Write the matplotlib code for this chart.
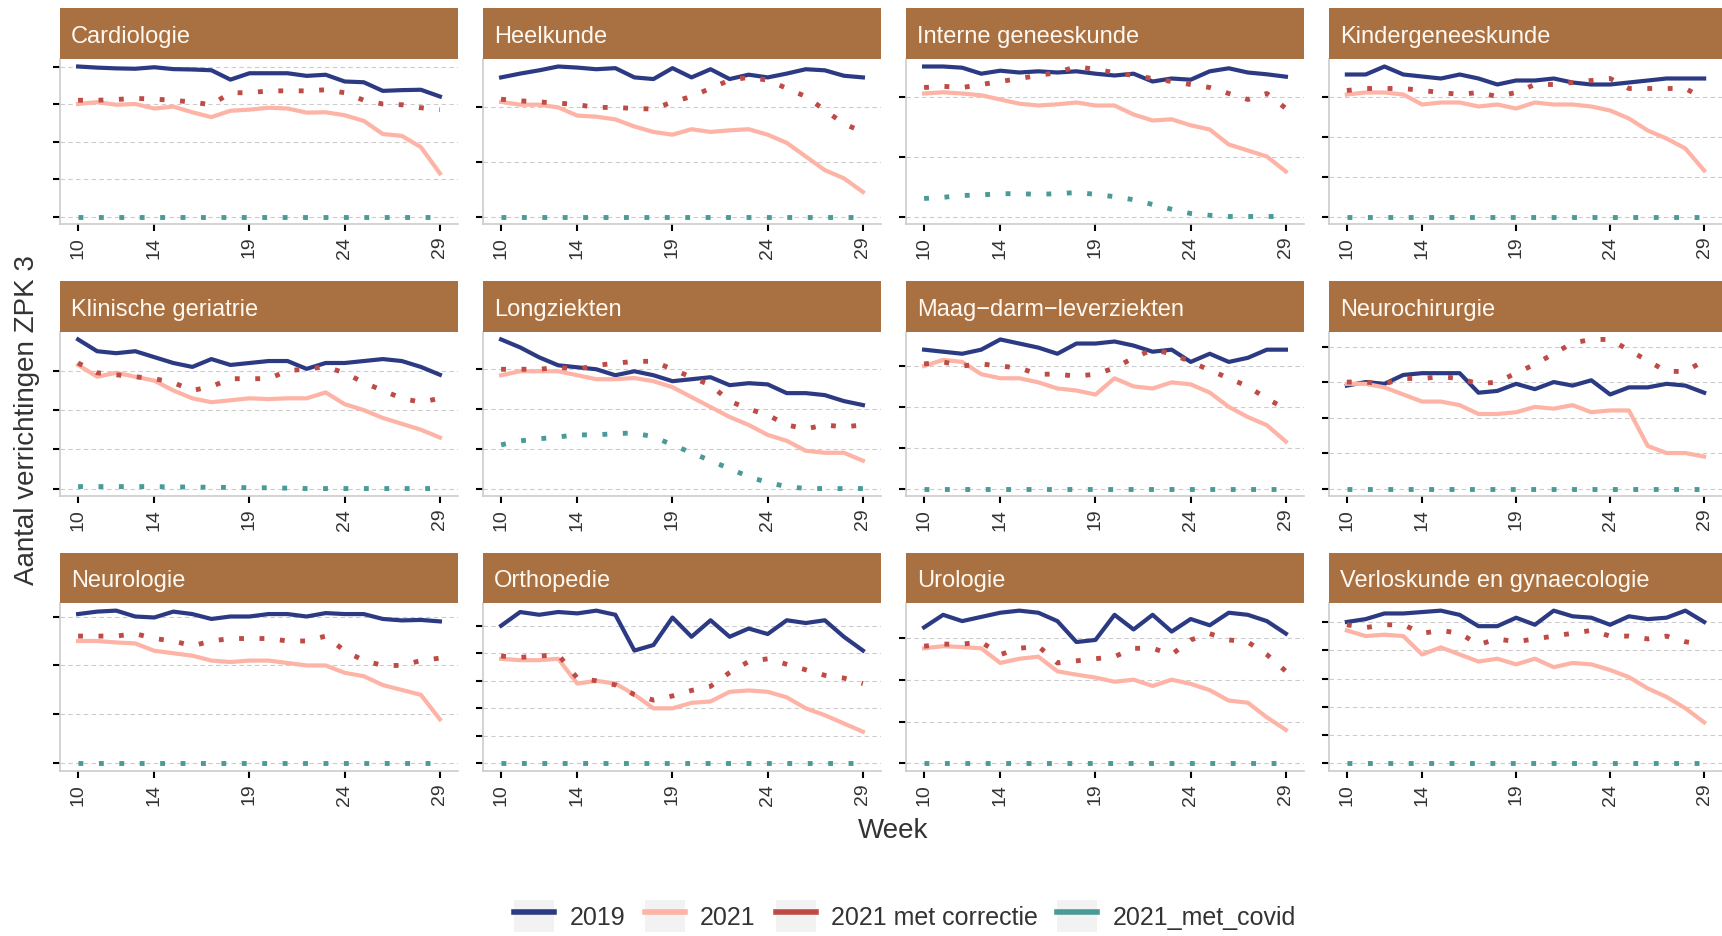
import matplotlib.pyplot as plt
import numpy as np
from matplotlib.lines import Line2D
from matplotlib.patches import Patch

plt.rcParams['font.family'] = ['Liberation Sans', 'DejaVu Sans']

weeks = np.arange(10, 30)
xticks = [10, 14, 19, 24, 29]

specialismen = ["Cardiologie", "Heelkunde", "Interne geneeskunde", "Kindergeneeskunde",
                "Klinische geriatrie", "Longziekten", "Maag\u2212darm\u2212leverziekten", "Neurochirurgie",
                "Neurologie", "Orthopedie", "Urologie", "Verloskunde en gynaecologie"]

v2019 = [
    [4.0, 3.97, 3.95, 3.94, 3.98, 3.93, 3.92, 3.9, 3.65, 3.82, 3.82, 3.82, 3.75, 3.78, 3.6, 3.58, 3.35, 3.37, 3.38, 3.2],
    [2.55, 2.62, 2.68, 2.75, 2.73, 2.7, 2.72, 2.55, 2.52, 2.72, 2.55, 2.7, 2.52, 2.6, 2.55, 2.62, 2.7, 2.68, 2.58, 2.55],
    [2.5, 2.5, 2.48, 2.38, 2.43, 2.4, 2.42, 2.4, 2.42, 2.38, 2.35, 2.38, 2.25, 2.3, 2.28, 2.42, 2.47, 2.4, 2.37, 2.33],
    [3.55, 3.55, 3.75, 3.55, 3.5, 3.45, 3.55, 3.45, 3.3, 3.4, 3.4, 3.45, 3.35, 3.3, 3.3, 3.35, 3.4, 3.45, 3.45, 3.45],
    [3.8, 3.5, 3.45, 3.5, 3.35, 3.2, 3.1, 3.3, 3.15, 3.2, 3.25, 3.25, 3.05, 3.2, 3.2, 3.25, 3.3, 3.25, 3.1, 2.9],
    [3.75, 3.55, 3.3, 3.1, 3.05, 3.0, 2.85, 2.95, 2.85, 2.7, 2.75, 2.8, 2.6, 2.65, 2.62, 2.4, 2.4, 2.35, 2.2, 2.1],
    [3.4, 3.35, 3.3, 3.4, 3.65, 3.55, 3.45, 3.3, 3.55, 3.55, 3.6, 3.5, 3.35, 3.4, 3.1, 3.3, 3.1, 3.2, 3.4, 3.4],
    [2.9, 3.0, 2.95, 3.2, 3.25, 3.25, 3.25, 2.7, 2.75, 2.95, 2.8, 3.0, 2.9, 3.05, 2.65, 2.85, 2.85, 2.95, 2.9, 2.7],
    [3.05, 3.1, 3.12, 3.0, 2.98, 3.1, 3.05, 2.95, 3.0, 3.0, 3.05, 3.05, 3.0, 3.07, 3.05, 3.05, 2.95, 2.92, 2.93, 2.9],
    [5.0, 5.5, 5.4, 5.5, 5.45, 5.55, 5.4, 4.1, 4.3, 5.3, 4.6, 5.2, 4.6, 4.9, 4.7, 5.2, 5.1, 5.2, 4.6, 4.1],
    [3.25, 3.55, 3.4, 3.5, 3.6, 3.65, 3.6, 3.4, 2.9, 2.95, 3.55, 3.2, 3.55, 3.15, 3.45, 3.3, 3.6, 3.55, 3.4, 3.1],
    [5.0, 5.1, 5.3, 5.3, 5.35, 5.4, 5.25, 4.85, 4.85, 5.15, 4.9, 5.4, 5.2, 5.15, 4.9, 5.2, 5.1, 5.15, 5.4, 5.0],
]
v2021 = [
    [3.0, 3.05, 2.98, 3.0, 2.88, 2.93, 2.78, 2.65, 2.82, 2.85, 2.9, 2.88, 2.77, 2.78, 2.7, 2.55, 2.2, 2.15, 1.85, 1.15],
    [2.1, 2.05, 2.05, 2.0, 1.85, 1.83, 1.78, 1.65, 1.55, 1.5, 1.6, 1.55, 1.58, 1.6, 1.5, 1.35, 1.1, 0.85, 0.7, 0.45],
    [2.05, 2.07, 2.05, 2.02, 1.95, 1.88, 1.85, 1.87, 1.9, 1.85, 1.85, 1.7, 1.6, 1.62, 1.52, 1.45, 1.2, 1.1, 1.0, 0.75],
    [3.05, 3.1, 3.1, 3.05, 2.8, 2.85, 2.85, 2.75, 2.8, 2.7, 2.85, 2.8, 2.8, 2.75, 2.65, 2.45, 2.15, 1.95, 1.7, 1.15],
    [3.15, 2.85, 2.95, 2.85, 2.75, 2.5, 2.3, 2.2, 2.25, 2.3, 2.28, 2.3, 2.3, 2.45, 2.15, 2.0, 1.8, 1.65, 1.5, 1.3],
    [2.85, 2.95, 2.95, 2.95, 2.85, 2.75, 2.75, 2.78, 2.7, 2.55, 2.3, 2.05, 1.8, 1.6, 1.35, 1.2, 0.95, 0.9, 0.9, 0.7],
    [3.0, 3.15, 3.1, 2.8, 2.7, 2.7, 2.6, 2.45, 2.4, 2.3, 2.7, 2.5, 2.45, 2.6, 2.55, 2.35, 2.0, 1.75, 1.55, 1.15],
    [2.95, 2.95, 2.85, 2.65, 2.45, 2.45, 2.35, 2.1, 2.1, 2.15, 2.3, 2.25, 2.35, 2.15, 2.2, 2.2, 1.2, 1.0, 1.0, 0.9],
    [2.5, 2.5, 2.47, 2.45, 2.3, 2.25, 2.2, 2.1, 2.07, 2.1, 2.1, 2.05, 2.0, 2.0, 1.85, 1.78, 1.6, 1.5, 1.4, 0.9],
    [3.8, 3.75, 3.75, 3.8, 2.9, 3.0, 2.9, 2.5, 2.0, 2.0, 2.2, 2.25, 2.6, 2.65, 2.6, 2.4, 2.0, 1.75, 1.45, 1.15],
    [2.75, 2.8, 2.78, 2.75, 2.4, 2.5, 2.55, 2.2, 2.12, 2.05, 1.95, 2.0, 1.85, 2.0, 1.9, 1.75, 1.5, 1.45, 1.1, 0.8],
    [4.7, 4.5, 4.55, 4.5, 3.85, 4.1, 3.85, 3.6, 3.7, 3.5, 3.7, 3.4, 3.55, 3.5, 3.3, 3.05, 2.65, 2.35, 1.95, 1.45],
]
v2021_corr = [
    [3.1, 3.1, 3.12, 3.15, 3.13, 3.1, 3.05, 2.98, 3.3, 3.3, 3.35, 3.35, 3.35, 3.38, 3.3, 3.1, 3.0, 2.98, 2.9, 2.85],
    [2.15, 2.12, 2.1, 2.08, 2.05, 2.0, 2.0, 1.98, 1.97, 2.1, 2.2, 2.35, 2.5, 2.55, 2.5, 2.35, 2.2, 1.95, 1.7, 1.55],
    [2.15, 2.17, 2.15, 2.2, 2.25, 2.3, 2.35, 2.4, 2.5, 2.45, 2.4, 2.35, 2.3, 2.25, 2.2, 2.15, 2.05, 1.95, 2.05, 1.8],
    [3.15, 3.2, 3.2, 3.2, 3.15, 3.1, 3.05, 3.1, 3.0, 3.1, 3.3, 3.3, 3.35, 3.4, 3.45, 3.2, 3.2, 3.2, 3.2, 2.95],
    [3.2, 2.95, 2.9, 2.85, 2.8, 2.7, 2.5, 2.6, 2.8, 2.8, 2.8, 3.0, 3.05, 3.1, 2.95, 2.7, 2.5, 2.3, 2.2, 2.3],
    [3.0, 3.0, 3.0, 3.05, 3.0, 3.1, 3.15, 3.2, 3.2, 3.0, 2.8, 2.6, 2.2, 2.0, 1.85, 1.6, 1.5, 1.6, 1.55, 1.6],
    [3.05, 3.1, 3.0, 3.05, 3.0, 2.95, 2.8, 2.8, 2.75, 2.8, 2.95, 3.2, 3.4, 3.3, 3.1, 2.9, 2.7, 2.5, 2.2, 1.95],
    [3.0, 3.0, 2.95, 3.1, 3.1, 3.15, 3.1, 2.95, 3.0, 3.25, 3.5, 3.8, 4.1, 4.2, 4.2, 3.9, 3.6, 3.3, 3.3, 3.6],
    [2.6, 2.6, 2.6, 2.65, 2.55, 2.5, 2.4, 2.5, 2.55, 2.55, 2.55, 2.5, 2.5, 2.6, 2.3, 2.1, 2.0, 2.0, 2.1, 2.15],
    [3.9, 3.85, 3.9, 3.95, 3.1, 3.0, 2.85, 2.5, 2.3, 2.45, 2.65, 2.8, 3.3, 3.7, 3.8, 3.6, 3.4, 3.2, 3.1, 2.9],
    [2.8, 2.85, 2.85, 2.9, 2.6, 2.75, 2.8, 2.4, 2.45, 2.5, 2.55, 2.75, 2.75, 2.6, 2.95, 3.1, 2.95, 2.9, 2.6, 2.2],
    [4.9, 4.8, 4.9, 4.9, 4.6, 4.7, 4.6, 4.2, 4.4, 4.3, 4.4, 4.5, 4.6, 4.7, 4.5, 4.5, 4.4, 4.5, 4.3, 4.2],
]
zeros = [0.0] * 20
v2021_covid = [zeros, zeros,
               [0.3, 0.32, 0.35, 0.36, 0.38, 0.38, 0.37, 0.38, 0.4, 0.37, 0.33, 0.28, 0.2, 0.12, 0.05, 0.02, 0, 0, 0, 0],
               zeros,
               [0.05, 0.05, 0.05, 0.05, 0.05, 0.04, 0.04, 0.03, 0.03, 0.02, 0.02, 0.01, 0, 0, 0, 0, 0, 0, 0, 0],
               [1.1, 1.2, 1.25, 1.3, 1.35, 1.35, 1.38, 1.4, 1.3, 1.1, 0.9, 0.7, 0.5, 0.3, 0.15, 0.05, 0, 0, 0, 0],
               zeros, zeros, zeros, zeros, zeros, zeros]

c2019, c2021, ccorr, ccovid = "#2B3A82", "#FDB3A5", "#BE4B45", "#4A9A98"
strip = "#A97142"

W, H = 1722, 937
fig = plt.figure(figsize=(W / 100, H / 100), dpi=100)
col_x = [60, 483, 906, 1329]
pw = 398
rows = [(9, 60, 225), (282, 333, 497), (554, 604, 772)]

for i, name in enumerate(specialismen):
    r, c = divmod(i, 4)
    st, top, bot = rows[r]
    x0 = col_x[c]
    w = min(pw, W - x0)
    ax = fig.add_axes([x0 / W, 1 - bot / H, w / W, (bot - top) / H])
    sa = fig.add_axes([x0 / W, 1 - top / H, w / W, (top - st) / H])
    sa.set_facecolor(strip)
    sa.set_xticks([]); sa.set_yticks([])
    for s in sa.spines.values():
        s.set_visible(False)
    sa.text(0.028, 0.45, name, color="#FFF8F0", fontsize=17, va="center", ha="left",
            transform=sa.transAxes, clip_on=True)

    ax.plot(weeks, v2019[i], color=c2019, lw=3)
    ax.plot(weeks, v2021[i], color=c2021, lw=3)
    ax.plot(weeks, v2021_corr[i], color=ccorr, lw=3.5, ls=(0, (1, 3.2)))
    ax.plot(weeks, v2021_covid[i], color=ccovid, lw=3.5, ls=(0, (1, 3.2)))
    ymax = max(max(v2019[i]), max(v2021_corr[i]))
    ax.set_ylim(-0.05 * ymax, ymax * 1.05)
    ax.set_xlim(9.05, 29.95)
    ax.set_yticks(np.arange(0, int(ymax) + 1))
    ax.set_yticklabels([])
    ax.set_xticks(xticks)
    ax.set_xticklabels([str(t) for t in xticks], rotation=90, fontsize=14, color="#333333")
    ax.grid(axis="y", color="#cccccc", ls=(0, (4, 3)), lw=0.8)
    ax.set_axisbelow(True)
    ax.tick_params(length=5, width=1.5, color="black")
    for s in ["top", "right"]:
        ax.spines[s].set_visible(False)
    ax.spines["left"].set_color("#cccccc")
    ax.spines["bottom"].set_color("#cccccc")
    ax.spines["left"].set_linewidth(1.2)
    ax.spines["bottom"].set_linewidth(1.2)

fig.text(893 / W, 1 - 831 / H, "Week", fontsize=20, ha="center", va="center", color="#333333")
fig.text(27 / W, 1 - 420 / H, "Aantal verrichtingen ZPK 3", fontsize=20, rotation=90,
         ha="center", va="center", color="#333333")

bg = Patch(facecolor="#F2F2F2", edgecolor="none")
handles = [(bg, Line2D([], [], color=col, lw=4)) for col in [c2019, c2021, ccorr, ccovid]]
leg = fig.legend(handles, ["2019", "2021", "2021 met correctie", "2021_met_covid"],
                 loc="center", bbox_to_anchor=(905 / W, 1 - 917 / H), ncol=4, frameon=False,
                 fontsize=18, handlelength=1.6, handleheight=1.6, columnspacing=0.8,
                 handletextpad=0.6)
for t in leg.get_texts():
    t.set_color("#333333")

fig.savefig("out.png", dpi=100)
